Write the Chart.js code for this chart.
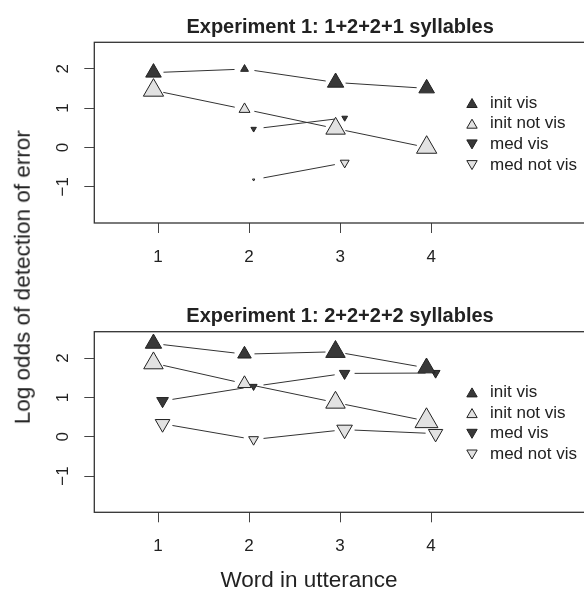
<!DOCTYPE html>
<html>
<head>
<meta charset="utf-8">
<script src="https://cdn.jsdelivr.net/npm/chart.js@4.4.1/dist/chart.umd.min.js"></script>
<style>
    body { margin: 0; width: 584px; height: 591px; overflow: hidden; background: #fff; position: relative;
           font-family: "Liberation Sans", Arial, sans-serif; color: #222; }
    .panel { position: absolute; left: 0; width: 600px; }
    #panel-top { top: 0; height: 290px; }
    #panel-bottom { top: 289px; height: 302px; }
    .ylab { position: absolute; left: -177px; top: 266.25px; width: 400px; height: 22.5px; line-height: 22.5px;
            font-size: 22.5px; text-align: center; transform: rotate(-90deg); white-space: nowrap; }
    .xlab { position: absolute; left: 159px; top: 569px; width: 300px; height: 22.5px; line-height: 22.5px;
            font-size: 22.5px; text-align: center; white-space: nowrap; }
</style>
</head>
<body>
<div class="panel" id="panel-top"><canvas id="chart-top"></canvas></div>
<div class="panel" id="panel-bottom"><canvas id="chart-bottom"></canvas></div>
<div class="ylab">Log odds of detection of error</div>
<div class="xlab">Word in utterance</div>
<script>
// data
const words = [1, 2, 3, 4];
const seriesNames = ["init vis", "init not vis", "med vis", "med not vis"];
const panelTitles = ["Experiment 1: 1+2+2+1 syllables", "Experiment 1: 2+2+2+2 syllables"];
const yTicks = [-1, 0, 1, 2];

// 1+2+2+1 syllables (no medial syllable in words 1 and 4)
const oneInitVis = [1.90, 1.99, 1.65, 1.50];
const oneInitNotVis = [1.45, 0.97, 0.48, 0.00];
const oneMedVis = [null, 0.47, 0.75, null];
const oneMedNotVis = [null, -0.82, -0.39, null];
// relative weight of each estimate (drawn as symbol size)
const oneInitVisW = [1.0, 0.5, 1.05, 1.0];
const oneInitNotVisW = [1.3, 0.7, 1.25, 1.3];
const oneMedVisW = [null, 0.35, 0.37, null];
const oneMedNotVisW = [null, 0.15, 0.57, null];

// 2+2+2+2 syllables
const twoInitVis = [2.37, 2.10, 2.16, 1.75];
const twoInitNotVis = [1.87, 1.35, 0.87, 0.40];
const twoMedVis = [0.91, 1.28, 1.61, 1.62];
const twoMedNotVis = [0.33, -0.07, 0.18, 0.08];
const twoInitVisW = [1.05, 0.87, 1.25, 1.1];
const twoInitNotVisW = [1.25, 0.87, 1.25, 1.47];
const twoMedVisW = [0.75, 0.45, 0.67, 0.57];
const twoMedNotVisW = [0.94, 0.63, 1.0, 0.92];

const FONT = "'Liberation Sans', Arial, sans-serif";
const DARK = "#383838";
const LIGHT = "#e2e2e2";
const EDGE = "#222";
const GAP = 10;  // R type="b" leaves a gap round each point

// init words sit a bit left of the tick, medial ones a bit right
const shift = [-0.05, -0.05, 0.05, 0.05];
const fills = [DARK, LIGHT, DARK, LIGHT];
const rotations = [0, 0, 180, 180];

function makeDatasets(values, weights) {
    var sets = [];
    for (var i = 0; i < values.length; i++) {
        sets.push({
            label: seriesNames[i],
            data: words.map((w, j) => ({ x: w + shift[i], y: values[i][j] })),
            pointStyle: 'triangle',
            pointRotation: rotations[i],
            pointRadius: weights[i].map(v => v == null ? 0 : v * 9),
            pointHoverRadius: weights[i].map(v => v == null ? 0 : v * 9),
            pointBackgroundColor: fills[i],
            pointBorderColor: EDGE,
            pointBorderWidth: 1,
            showLine: false
        });
    }
    return sets;
}

// lines between points, cut short near each symbol
const gapLines = {
    id: 'gapLines',
    beforeDatasetsDraw(chart) {
        let ctx = chart.ctx;
        ctx.save();
        ctx.strokeStyle = "#333";
        ctx.lineWidth = 1;
        chart.data.datasets.forEach((ds, i) => {
            let pts = chart.getDatasetMeta(i).data;
            for (var j = 1; j < pts.length; j++) {
                if (ds.data[j - 1].y == null || ds.data[j].y == null) continue;
                let p = pts[j - 1], q = pts[j];
                let dx = q.x - p.x, dy = q.y - p.y;
                let len = Math.hypot(dx, dy);
                if (len < 2 * GAP) continue;
                ctx.beginPath();
                ctx.moveTo(p.x + dx / len * GAP, p.y + dy / len * GAP);
                ctx.lineTo(q.x - dx / len * GAP, q.y - dy / len * GAP);
                ctx.stroke();
            }
        });
        ctx.restore();
    }
};

// box, title and the in-plot legend
const frame = {
    id: 'frame',
    afterDatasetsDraw(chart) {
        let ctx = chart.ctx, area = chart.chartArea;
        ctx.save();
        chart.data.datasets.forEach((ds, i) => {
            let y = area.top + 60.7 + i * 20.7;
            ctx.fillStyle = ds.pointBackgroundColor;
            ctx.strokeStyle = EDGE;
            ctx.lineWidth = 1;
            Chart.helpers.drawPoint(ctx, { pointStyle: 'triangle', rotation: ds.pointRotation, radius: 6, borderWidth: 1 },
                472, y + (ds.pointRotation ? -1.5 : 1.5));
            ctx.fillStyle = "#222";
            ctx.font = "17px " + FONT;
            ctx.textAlign = "left";
            ctx.textBaseline = "middle";
            ctx.fillText(ds.label, 490, y);
        });
        ctx.restore();
    },
    afterDraw(chart) {
        let ctx = chart.ctx, area = chart.chartArea;
        ctx.save();
        ctx.strokeStyle = "#333";
        ctx.lineWidth = 1.3;
        ctx.strokeRect(area.left, area.top, area.right - area.left, area.bottom - area.top);
        ctx.fillStyle = "#222";
        ctx.font = "bold 20px " + FONT;
        ctx.textAlign = "center";
        ctx.textBaseline = "alphabetic";
        ctx.fillText(chart.options.panelTitle, (area.left + area.right) / 2, area.top - 9.5);
        ctx.restore();
    }
};

function makePanel(canvasId, title, datasets, topPad, bottomPad) {
    let tickGrid = { drawOnChartArea: false, drawTicks: true, tickLength: 10, color: "#444", lineWidth: 1 };
    return new Chart(document.getElementById(canvasId), {
        type: 'scatter',
        data: { datasets: datasets },
        options: {
            panelTitle: title,
            responsive: true,
            maintainAspectRatio: false,
            animation: false,
            events: [],
            layout: { padding: { left: 34.3, right: 14, top: topPad, bottom: bottomPad } },
            plugins: { legend: { display: false }, tooltip: { enabled: false }, title: { display: false } },
            scales: {
                x: {
                    type: 'linear', min: 0.3, max: 5.7,
                    afterBuildTicks: s => { s.ticks = words.map(v => ({ value: v })); },
                    afterFit: s => { s.height = 40; },
                    grid: tickGrid,
                    border: { display: false },
                    ticks: {
                        font: { size: 17, family: FONT }, color: "#222", padding: 14,
                        autoSkip: false, minRotation: 0, maxRotation: 0,
                        callback: v => String(v)
                    }
                },
                y: {
                    type: 'linear', min: -1.92, max: 2.67,
                    afterBuildTicks: s => { s.ticks = yTicks.map(v => ({ value: v })); },
                    afterFit: s => { s.width = 60; },
                    grid: tickGrid,
                    border: { display: false },
                    ticks: {
                        font: { size: 17, family: FONT }, color: "#222", padding: 11,
                        minRotation: 90, maxRotation: 90, crossAlign: 'center',
                        callback: v => v < 0 ? "\u2212" + Math.abs(v) : String(v)
                    }
                }
            }
        },
        plugins: [gapLines, frame]
    });
}

makePanel("chart-top", panelTitles[0],
    makeDatasets([oneInitVis, oneInitNotVis, oneMedVis, oneMedNotVis],
                 [oneInitVisW, oneInitNotVisW, oneMedVisW, oneMedNotVisW]), 42.3, 27);
makePanel("chart-bottom", panelTitles[1],
    makeDatasets([twoInitVis, twoInitNotVis, twoMedVis, twoMedNotVis],
                 [twoInitVisW, twoInitNotVisW, twoMedVisW, twoMedNotVisW]), 42.7, 38.7);
</script>
</body>
</html>
